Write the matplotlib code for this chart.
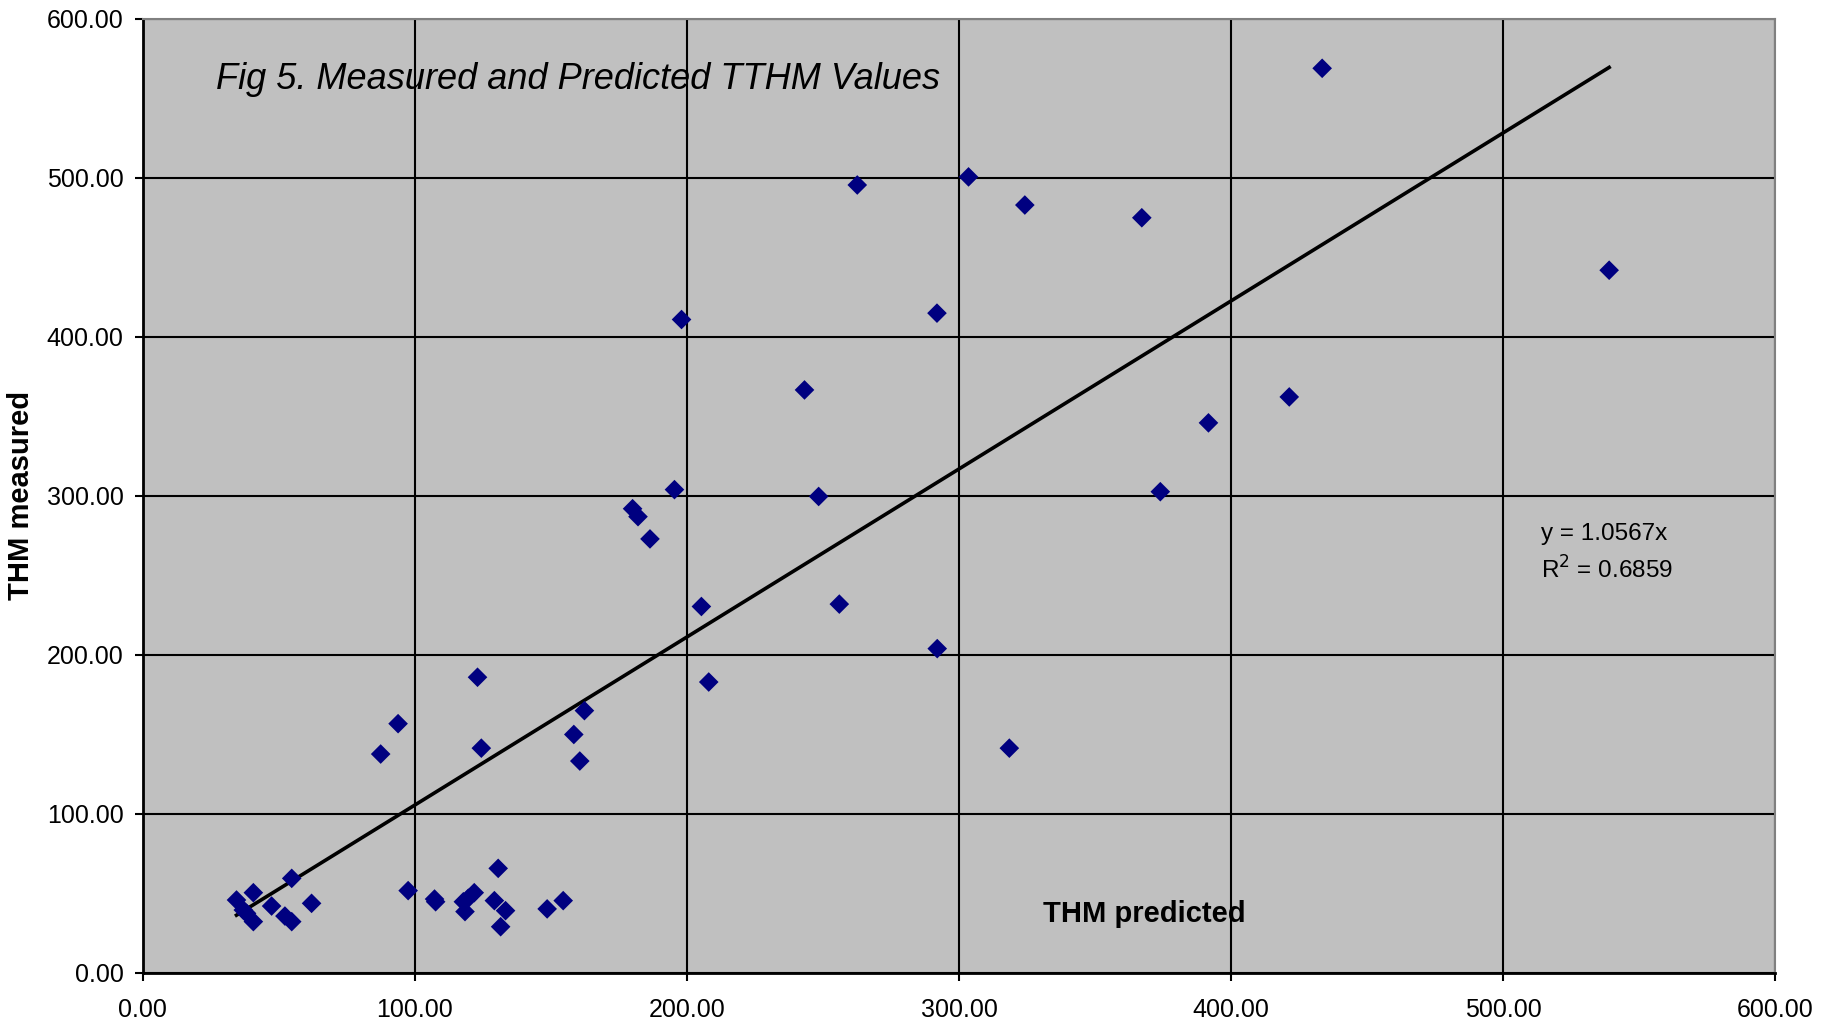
import numpy as np
import matplotlib.pyplot as plt
from matplotlib.ticker import FormatStrFormatter

# --------------------------- Data ---------------------------

# THM predicted (x) and THM measured (y)
thm_predicted = [433.5, 262.6, 303.5, 324.2, 367.2, 539.0, 198.0, 291.9, 243.2, 421.4,
                 391.7, 195.4, 248.4, 374.0, 180.0, 182.0, 186.4, 205.3, 256.0, 292.0,
                 123.0, 208.0, 162.3, 93.8, 158.4, 87.4, 124.4, 318.5, 160.6,
                 34.4, 40.6, 54.7, 47.3, 62.0, 36.9, 38.1, 40.6, 52.2, 54.7,
                 97.5, 107.6, 107.2, 117.8, 118.4, 119.6, 121.8, 130.6, 129.2, 133.3,
                 131.5, 148.6, 154.5]
thm_measured = [569.0, 495.6, 500.7, 483.0, 475.0, 442.0, 411.0, 415.0, 366.7, 362.3,
                346.0, 304.0, 299.7, 302.7, 292.0, 287.0, 273.0, 230.5, 232.0, 204.0,
                186.0, 183.0, 165.0, 156.8, 150.0, 137.7, 141.4, 141.4, 133.3,
                45.9, 50.5, 59.5, 42.1, 43.8, 39.6, 37.5, 32.3, 35.8, 32.3,
                51.8, 44.8, 46.5, 44.8, 38.6, 47.0, 50.5, 65.8, 45.5, 39.2,
                29.1, 40.3, 45.5]

slope = 1.0567
r_squared = 0.6859

x_ticks = [0, 100, 200, 300, 400, 500, 600]
y_ticks = [0, 100, 200, 300, 400, 500, 600]

# --------------------------- Plot ---------------------------

plt.rcParams['font.family'] = ['Liberation Sans', 'DejaVu Sans']

fig = plt.figure(figsize=(18.37, 10.27), dpi=100)
ax = fig.add_axes([0.0778, 0.0526, 0.8885, 0.9289])
ax.set_facecolor('#C0C0C0')

ax.set_xlim(0, 600)
ax.set_ylim(0, 600)
ax.set_xticks(x_ticks)
ax.set_yticks(y_ticks)
ax.xaxis.set_major_formatter(FormatStrFormatter('%.2f'))
ax.yaxis.set_major_formatter(FormatStrFormatter('%.2f'))
ax.tick_params(direction='out', length=6, width=1.5, labelsize=18)
ax.tick_params(axis='x', pad=12)
ax.tick_params(axis='y', pad=8)

ax.grid(True, color='black', linewidth=1.5)
ax.set_axisbelow(True)

for side in ['left', 'bottom']:
    ax.spines[side].set_linewidth(2)
    ax.spines[side].set_color('black')
for side in ['top', 'right']:
    ax.spines[side].set_linewidth(1.5)
    ax.spines[side].set_color('#808080')

# trendline through origin
xs = np.array([min(thm_predicted), max(thm_predicted)])
ax.plot(xs, slope * xs, color='black', linewidth=2.6, zorder=3)

ax.scatter(thm_predicted, thm_measured, marker='D', s=100, color='#000080',
           edgecolors='none', zorder=4)

ax.text(27, 562, 'Fig 5. Measured and Predicted TTHM Values', fontsize=26,
        fontstyle='italic', va='center', ha='left')
ax.text(368, 37, 'THM predicted', fontsize=21, fontweight='bold', ha='center', va='center')
ax.text(514, 264, f'y = {slope}x\nR$^2$ = {r_squared}', fontsize=17.5, ha='left',
        va='center', linespacing=1.5)

fig.text(0.0115, 0.518, 'THM measured', rotation=90, fontsize=21, fontweight='bold',
         ha='center', va='center')

fig.savefig('out.png', dpi=100)
